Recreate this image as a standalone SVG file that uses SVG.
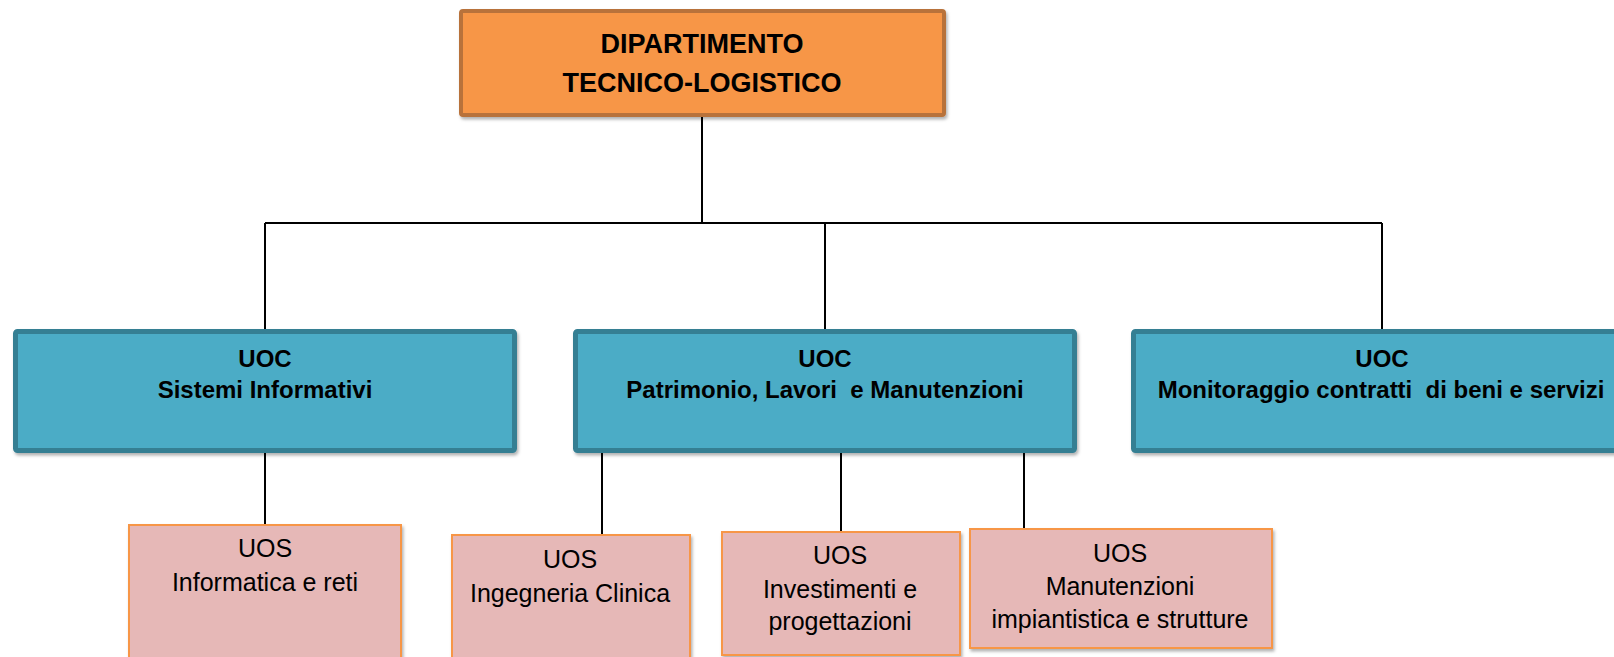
<svg xmlns="http://www.w3.org/2000/svg" width="1614" height="657" viewBox="0 0 1614 657">
<defs>
<filter id="sh" x="-5%" y="-5%" width="115%" height="120%">
<feDropShadow dx="1.5" dy="2.5" stdDeviation="1.5" flood-color="#000" flood-opacity="0.3"/>
</filter>
<style>
.top{fill:#f79646;stroke:#b8723a;stroke-width:4}
.uoc{fill:#4bacc6;stroke:#367f93;stroke-width:5}
.uos{fill:#e6b8b7;stroke:#f79646;stroke-width:2}
.t1{font-family:"Liberation Sans",Arial,sans-serif;font-weight:bold;font-size:27px;fill:#000;text-anchor:middle}
.t2{font-family:"Liberation Sans",Arial,sans-serif;font-weight:bold;font-size:24px;fill:#000;text-anchor:middle}
.t3{font-family:"Liberation Sans",Arial,sans-serif;font-size:25px;fill:#000;text-anchor:middle}
.c{stroke:#000;stroke-width:2;fill:none}
</style>
</defs>
<rect width="1614" height="657" fill="#fff"/>
<g id="connectors">
<path class="c" d="M702 116 V223 M265 223 H1382 M265 223 V330 M825 223 V330 M1382 223 V330"/>
<path class="c" d="M265 453 V524 M602 453 V534 M841 453 V531 M1024 453 V528"/>
</g>
<g id="dip">
<rect class="top" x="461" y="11" width="483" height="104" rx="2" filter="url(#sh)"/>
<text class="t1" x="702" y="53">DIPARTIMENTO</text>
<text class="t1" x="702" y="92">TECNICO-LOGISTICO</text>
</g>
<g id="uoc1">
<rect class="uoc" x="15.5" y="331.5" width="499" height="119" rx="2" filter="url(#sh)"/>
<text class="t2" x="265" y="367">UOC</text>
<text class="t2" x="265" y="398">Sistemi Informativi</text>
</g>
<g id="uoc2">
<rect class="uoc" x="575.5" y="331.5" width="499" height="119" rx="2" filter="url(#sh)"/>
<text class="t2" x="825" y="367">UOC</text>
<text class="t2" x="825" y="398" xml:space="preserve">Patrimonio, Lavori  e Manutenzioni</text>
</g>
<g id="uoc3">
<rect class="uoc" x="1133.5" y="331.5" width="499" height="119" rx="2" filter="url(#sh)"/>
<text class="t2" x="1382" y="367">UOC</text>
<text class="t2" x="1381" y="398" xml:space="preserve">Monitoraggio contratti  di beni e servizi</text>
</g>
<g id="uos1">
<rect class="uos" x="129" y="525" width="272" height="150" filter="url(#sh)"/>
<text class="t3" x="265" y="557">UOS</text>
<text class="t3" x="265" y="591">Informatica e reti</text>
</g>
<g id="uos2">
<rect class="uos" x="452" y="535" width="238" height="140" filter="url(#sh)"/>
<text class="t3" x="570" y="568">UOS</text>
<text class="t3" x="570" y="602">Ingegneria Clinica</text>
</g>
<g id="uos3">
<rect class="uos" x="722" y="532" width="238" height="123" filter="url(#sh)"/>
<text class="t3" x="840" y="564">UOS</text>
<text class="t3" x="840" y="598">Investimenti e</text>
<text class="t3" x="840" y="630">progettazioni</text>
</g>
<g id="uos4">
<rect class="uos" x="970" y="529" width="302" height="119" filter="url(#sh)"/>
<text class="t3" x="1120" y="562">UOS</text>
<text class="t3" x="1120" y="595">Manutenzioni</text>
<text class="t3" x="1120" y="628">impiantistica e strutture</text>
</g>
</svg>
